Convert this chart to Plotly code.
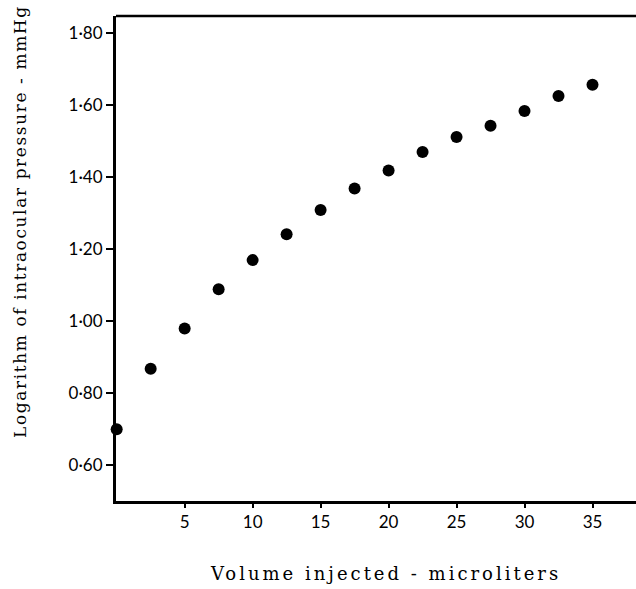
import plotly.graph_objects as go

volume = [0, 2.5, 5, 7.5, 10, 12.5, 15, 17.5, 20, 22.5, 25, 27.5, 30, 32.5, 35]
log_pressure = [0.699, 0.867, 0.979, 1.088, 1.169, 1.241, 1.308, 1.368, 1.418,
                1.469, 1.511, 1.542, 1.583, 1.625, 1.656]

y_tickvals = [0.6, 0.8, 1.0, 1.2, 1.4, 1.6, 1.8]
y_ticktext = ["0·60", "0·80", "1·00", "1·20", "1·40", "1·60", "1·80"]
x_tickvals = [5, 10, 15, 20, 25, 30, 35]
x_ticktext = ["5", "10", "15", "20", "25", "30", "35"]

y_title = "Logarithm of intraocular pressure - mmHg"
x_title = "Volume injected - microliters"

fig = go.Figure()
fig.add_trace(go.Scatter(
    x=volume, y=log_pressure, mode="markers",
    marker=dict(size=12, color="black"),
    cliponaxis=False, showlegend=False,
))

tick_font = dict(family="Lato, DejaVu Sans, sans-serif", size=17, color="black")

fig.update_layout(
    width=636, height=589,
    margin=dict(l=116, r=0, t=16, b=88),
    paper_bgcolor="white", plot_bgcolor="white",
    xaxis=dict(
        range=[-0.05, 38.2], tickvals=x_tickvals, ticktext=x_ticktext,
        showline=True, linecolor="black", linewidth=3, mirror=False,
        ticks="outside", ticklen=4, tickwidth=1.5, tickcolor="black",
        showgrid=False, zeroline=False, tickfont=tick_font,
    ),
    yaxis=dict(
        range=[0.5, 1.847], tickvals=y_tickvals, ticktext=y_ticktext,
        showline=True, linecolor="black", linewidth=3, mirror=False,
        ticks="outside", ticklen=7, tickwidth=2, tickcolor="black",
        showgrid=False, zeroline=False, tickfont=tick_font,
    ),
    shapes=[
        dict(type="line", xref="paper", yref="paper", x0=0, x1=1, y0=1, y1=1,
             line=dict(color="black", width=2.5)),
    ],
    annotations=[
        dict(text='<span style="letter-spacing:1.6px">' + y_title + '</span>',
             xref="paper", yref="paper", x=-116/520, y=(501-222)/485,
             xanchor="center", yanchor="middle", textangle=-90,
             xshift=20, showarrow=False,
             font=dict(family="DejaVu Serif, serif", size=17, color="black")),
        dict(text='<span style="letter-spacing:3px">' + x_title + '</span>',
             xref="paper", yref="paper", x=(385-116)/520, y=0,
             xanchor="center", yanchor="middle", yshift=-(573-501),
             showarrow=False,
             font=dict(family="DejaVu Serif, serif", size=18, color="black")),
    ],
)

fig.write_html("out.html")
